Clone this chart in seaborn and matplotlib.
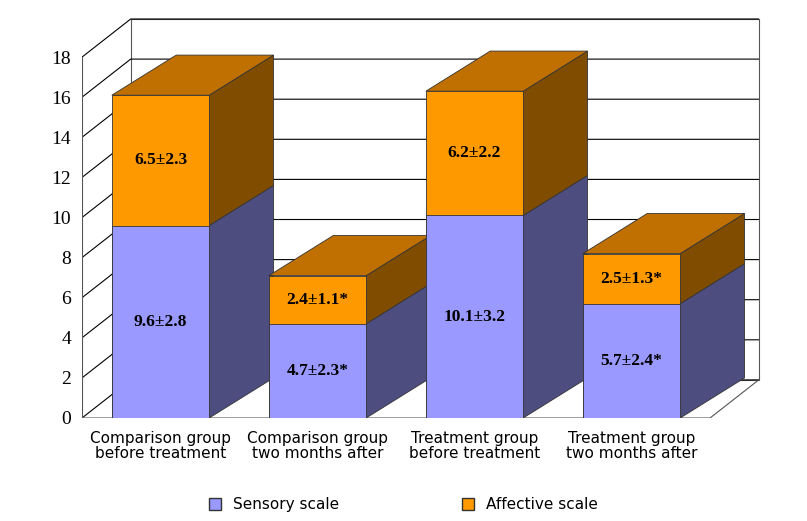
import matplotlib
matplotlib.use("Agg")
import matplotlib.pyplot as plt
import seaborn as sns
import pandas as pd
from matplotlib.patches import Polygon, Patch

categories = ["Comparison group\nbefore treatment", "Comparison group\ntwo months after",
              "Treatment group\nbefore treatment", "Treatment group\ntwo months after"]
sensory = [9.6, 4.7, 10.1, 5.7]
affective = [6.5, 2.4, 6.2, 2.5]
sensory_labels = ["9.6±2.8", "4.7±2.3*", "10.1±3.2", "5.7±2.4*"]
affective_labels = ["6.5±2.3", "2.4±1.1*", "6.2±2.2", "2.5±1.3*"]
yticks = list(range(0, 19, 2))

sns.set_theme(style="white")
plt.rcParams["text.color"] = "black"
fig = plt.figure(figsize=(8.07, 5.21), dpi=100)
ax = fig.add_axes([82/807, 103/521, 683/807, 401/521])

wx, wy = 0.31, 1.9   # wall depth
bx, by = 0.41, 2.0   # bar depth
bw = 0.62
x0, x1 = -0.5, 3.5

ax.add_patch(Polygon([(x0+wx, wy), (x1+wx, wy), (x1+wx, 18+wy), (x0+wx, 18+wy)],
                     closed=True, fc="white", ec="#555555", lw=0.8, zorder=0))
for y in yticks:
    ax.plot([x0, x0+wx, x1+wx], [y, y+wy, y+wy], color="black", lw=0.8, zorder=1)
ax.plot([x0, x1, x1+wx], [0, 0, wy], color="#555555", lw=0.8, zorder=1)
ax.plot([x0, x0], [0, 18], color="#555555", lw=0.8, zorder=1)

df = pd.DataFrame({"cat": categories, "sensory": sensory,
                   "total": [s + a for s, a in zip(sensory, affective)]})
sns.barplot(data=df, x="cat", y="total", color="#FF9900", width=bw, saturation=1,
            ax=ax, zorder=3, edgecolor="#333333", linewidth=0.6)
sns.barplot(data=df, x="cat", y="sensory", color="#9999FF", width=bw, saturation=1,
            ax=ax, zorder=4, edgecolor="#333333", linewidth=0.6)
ax.set_xlim(-0.5, 3.85)
ax.set_ylim(0, 20)

for i, (s, a) in enumerate(zip(sensory, affective)):
    r = i + bw/2
    l = i - bw/2
    t = s + a
    ax.add_patch(Polygon([(r, 0), (r+bx, by), (r+bx, s+by), (r, s)], fc="#4D4D80", ec="#333333", lw=0.6, zorder=2))
    ax.add_patch(Polygon([(r, s), (r+bx, s+by), (r+bx, t+by), (r, t)], fc="#804C00", ec="#333333", lw=0.6, zorder=2))
    ax.add_patch(Polygon([(l, t), (r, t), (r+bx, t+by), (l+bx, t+by)], fc="#C07000", ec="#333333", lw=0.6, zorder=2))
    ax.text(i, s/2, sensory_labels[i], ha="center", va="center", fontsize=12.5,
            fontweight="bold", family="Liberation Serif", color="black", zorder=6)
    ax.text(i, s + a/2, affective_labels[i], ha="center", va="center", fontsize=12.5,
            fontweight="bold", family="Liberation Serif", color="black", zorder=6)

for sp in ax.spines.values():
    sp.set_visible(False)
ax.set_yticks(yticks)
ax.set_yticklabels([str(v) for v in yticks], family="Liberation Serif", fontsize=14, color="black")
ax.tick_params(axis="y", left=False, pad=2)
ax.set_xticks(range(4))
ax.set_xticklabels(categories, fontsize=11, linespacing=1.0, color="black")
ax.tick_params(axis="x", bottom=False, pad=3)
ax.set_xlabel("")
ax.set_ylabel("")

fig.legend(handles=[Patch(fc="#9999FF", ec="#333333", label="Sensory scale"),
                    Patch(fc="#FF9900", ec="#333333", label="Affective scale")],
           loc="lower center", bbox_to_anchor=(0.5, -0.01), ncol=2, frameon=False,
           fontsize=11, handlelength=0.8, handleheight=0.8, columnspacing=8)
fig.savefig("out.png", dpi=100)
